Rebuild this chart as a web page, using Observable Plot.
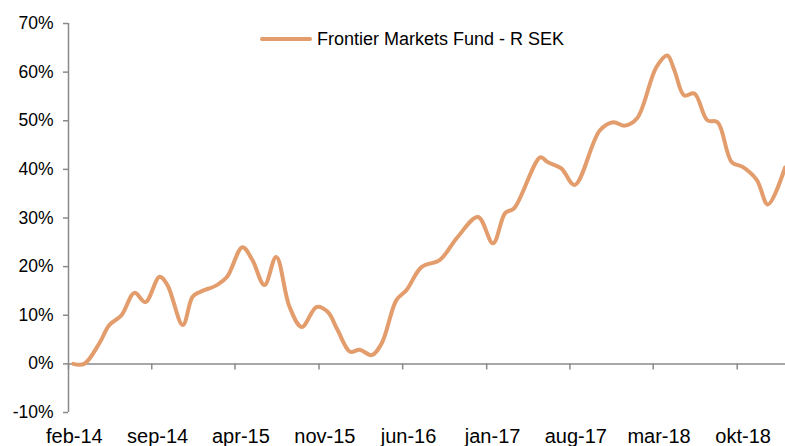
<!DOCTYPE html>
<html>
<head>
<meta charset="utf-8">
<script src="https://cdn.jsdelivr.net/npm/d3@7"></script>
<script src="https://cdn.jsdelivr.net/npm/@observablehq/plot@0.6"></script>
<style>
  html, body { margin: 0; padding: 0; background: #fff; }
  body { width: 785px; height: 446px; overflow: hidden; position: relative; font-family: "Liberation Sans", Arial, sans-serif; }
  #title { position: absolute; left: 0; top: -17px; color: #E39C6C; font-size: 21px; font-weight: bold; white-space: nowrap; }
  #chart { position: absolute; left: 0; top: 0; }
  #legend { position: absolute; left: 260px; top: 29px; display: flex; align-items: center; font-size: 18px; line-height: 20px; color: #000; }
  #legend .sw { width: 52px; height: 4px; background: #E39C6C; border-radius: 2px; margin-right: 5px; }
</style>
</head>
<body>
<div id="title">Utveckling</div>
<div id="chart"></div>
<div id="legend"><span class="sw"></span><span>Frontier Markets Fund - R SEK</span></div>
<script>
const seriesName = "Frontier Markets Fund - R SEK";
const dates = [
  "2014-02-13","2014-03-13","2014-04-21","2014-05-16","2014-06-16","2014-07-19","2014-08-16",
  "2014-09-21","2014-10-11","2014-11-19","2014-12-14","2015-01-02","2015-02-14","2015-03-12",
  "2015-04-20","2015-05-15","2015-06-15","2015-07-15","2015-08-18","2015-09-18","2015-10-26",
  "2015-11-23","2015-12-18","2016-01-19","2016-02-13","2016-03-14","2016-04-09","2016-05-16",
  "2016-06-11","2016-07-19","2016-09-04","2016-10-19","2016-12-10","2017-01-17","2017-02-17",
  "2017-03-12","2017-05-18","2017-06-05","2017-07-10","2017-08-13","2017-10-16","2017-11-19",
  "2017-12-19","2018-01-19","2018-03-09","2018-04-06","2018-04-24","2018-05-19","2018-06-14",
  "2018-07-17","2018-08-12","2018-09-17","2018-10-15","2018-11-20","2018-12-18","2019-01-31"
];
const values = [
  0, 0, 4.3, 8.0, 10.0, 14.6, 12.7,
  17.9, 16.2, 8.0, 13.8, 14.8, 16.2, 17.9,
  24.0, 21.4, 16.2, 22.0, 11.7, 7.6, 11.7,
  10.7, 7.0, 2.5, 2.9, 1.8, 4.3, 13.1,
  15.2, 19.9, 21.4, 26.1, 30.2, 24.8, 31.0,
  32.0, 42.5, 41.5, 40.2, 36.8, 48.0, 49.7,
  49.0, 50.5, 61.0, 63.4, 60.4, 55.2, 55.6,
  50.1, 49.7, 41.5, 40.5, 37.8, 32.8, 40.4
];
const tickDates = ["2014-02-01","2014-09-01","2015-04-01","2015-11-01","2016-06-01","2017-01-01","2017-08-01","2018-03-01","2018-10-01"];
const tickLabels = ["feb-14","sep-14","apr-15","nov-15","jun-16","jan-17","aug-17","mar-18","okt-18"];
const yTicks = [-10, 0, 10, 20, 30, 40, 50, 60, 70];

const data = dates.map((d, i) => ({date: new Date(d + "T00:00:00"), value: values[i]}));
const ticks = tickDates.map(d => new Date(d + "T00:00:00"));
const labelPos = ticks.map(d => new Date(d.getTime() + 15 * 864e5));
const labelMap = new Map(labelPos.map((d, i) => [+d, tickLabels[i]]));

const axisColor = "#8a8a8a";
const lineColor = "#E39C6C";

const chart = Plot.plot({
  width: 785,
  height: 446,
  marginTop: 23,
  marginBottom: 34,
  marginLeft: 68,
  marginRight: 0,
  style: {fontFamily: "'Liberation Sans', Arial, sans-serif", fontSize: "17px", color: "#000", background: "#fff", overflow: "visible"},
  x: {type: "time", domain: [new Date("2014-02-01T00:00:00"), new Date("2019-02-01T00:00:00")]},
  y: {domain: [-10, 70]},
  marks: [
    Plot.ruleY([0], {stroke: axisColor, strokeWidth: 1.5}),
    Plot.ruleX(ticks, {x: d => d, y1: 0, y2: -1.25, stroke: axisColor, strokeWidth: 1.5}),
    Plot.ruleX([new Date("2014-02-01T00:00:00")], {stroke: axisColor, strokeWidth: 1.5}),
    Plot.axisY(yTicks, {tickFormat: d => d + "%", tickSize: 5, tickPadding: 10, stroke: axisColor, strokeWidth: 1.5, fill: "#000", fontSize: 17.5, label: null}),
    Plot.axisX(labelPos, {tickSize: 0, tickPadding: 16, tickFormat: d => labelMap.get(+d), fill: "#000", fontSize: 20, label: null}),
    Plot.line(data, {x: "date", y: "value", stroke: lineColor, strokeWidth: 4, curve: "catmull-rom"})
  ]
});
document.getElementById("chart").appendChild(chart);
</script>
</body>
</html>
